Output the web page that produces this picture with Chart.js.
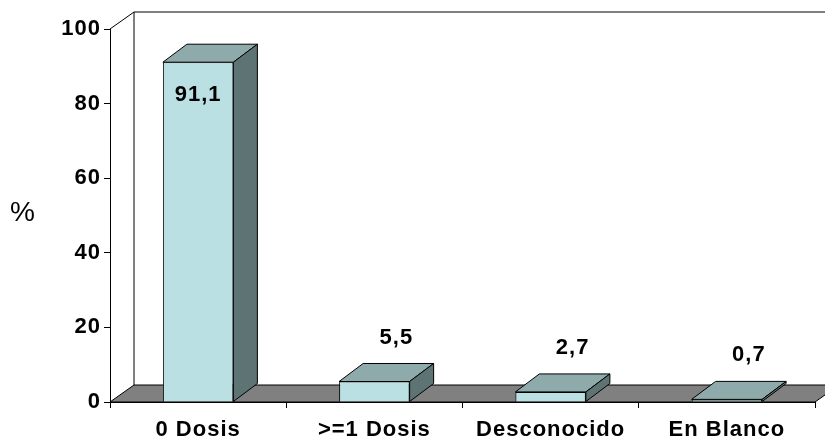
<!DOCTYPE html>
<html>
<head>
<meta charset="utf-8">
<script src="https://cdn.jsdelivr.net/npm/chart.js@4.4.0/dist/chart.umd.min.js"></script>
<style>
  html, body { margin: 0; padding: 0; background: #ffffff; }
  #wrap { width: 825px; height: 440px; }
</style>
</head>
<body>
<div id="wrap"><canvas id="chart"></canvas></div>
<script>
// data
const categories = ['0 Dosis', '>=1 Dosis', 'Desconocido', 'En Blanco'];
const percentValues = [91.1, 5.5, 2.7, 0.7];
const valueLabels = ['91,1', '5,5', '2,7', '0,7'];
const yTicks = [0, 20, 40, 60, 80, 100];

const FONT = "'Liberation Sans', Arial, sans-serif";
const DEPTH_X = 24;
const DEPTH_Y = -18;

const colors = {
  front: '#bbe0e3',
  top: '#8eaaab',
  side: '#5e7474',
  floor: '#808080'
};

// back wall, left wall edge and floor of the 3D box, then bar tops/sides
const boxPlugin = {
  id: 'box3d',
  beforeInit(chart) {
    // the original lettering is a touch wider than Liberation Sans
    chart.ctx.letterSpacing = '1px';
  },
  beforeDraw(chart) {
    chart.ctx.letterSpacing = '1px';
  },
  beforeDatasetsDraw(chart) {
    const { ctx, chartArea: a } = chart;
    ctx.save();
    ctx.strokeStyle = '#000';
    ctx.lineWidth = 1;
    // back wall outline
    ctx.beginPath();
    ctx.moveTo(a.left + DEPTH_X, a.bottom + DEPTH_Y + 1);
    ctx.lineTo(a.left + DEPTH_X, a.top + DEPTH_Y + 1);
    ctx.lineTo(a.right + DEPTH_X + 20, a.top + DEPTH_Y + 1);
    ctx.moveTo(a.left, a.top);
    ctx.lineTo(a.left + DEPTH_X, a.top + DEPTH_Y + 1);
    ctx.stroke();
    // floor
    ctx.beginPath();
    ctx.moveTo(a.left, a.bottom);
    ctx.lineTo(a.right, a.bottom);
    ctx.lineTo(a.right + DEPTH_X, a.bottom + DEPTH_Y + 1);
    ctx.lineTo(a.left + DEPTH_X, a.bottom + DEPTH_Y + 1);
    ctx.closePath();
    ctx.fillStyle = colors.floor;
    ctx.fill();
    ctx.stroke();
    ctx.restore();
  },
  afterDatasetsDraw(chart) {
    const { ctx } = chart;
    const meta = chart.getDatasetMeta(0);
    ctx.save();
    ctx.strokeStyle = '#000';
    ctx.lineWidth = 1;
    meta.data.forEach((bar, i) => {
      const half = bar.width / 2;
      const l = bar.x - half, r = bar.x + half;
      const t = bar.y, b = bar.base;
      // top face
      ctx.beginPath();
      ctx.moveTo(l, t);
      ctx.lineTo(l + DEPTH_X, t + DEPTH_Y);
      ctx.lineTo(r + DEPTH_X, t + DEPTH_Y);
      ctx.lineTo(r, t);
      ctx.closePath();
      ctx.fillStyle = colors.top;
      ctx.fill();
      ctx.stroke();
      // side face
      ctx.beginPath();
      ctx.moveTo(r, t);
      ctx.lineTo(r + DEPTH_X, t + DEPTH_Y);
      ctx.lineTo(r + DEPTH_X, b + DEPTH_Y);
      ctx.lineTo(r, b);
      ctx.closePath();
      ctx.fillStyle = colors.side;
      ctx.fill();
      ctx.stroke();

      // value label
      ctx.fillStyle = '#000';
      ctx.font = 'bold 22px ' + FONT;
      ctx.textAlign = 'center';
      ctx.textBaseline = 'middle';
      if (percentValues[i] > 50) {
        ctx.fillText(valueLabels[i], bar.x, t + 33);
      } else {
        ctx.fillText(valueLabels[i], bar.x + DEPTH_X - 2, t + DEPTH_Y - 26);
      }
    });
    // "%" axis caption, drawn upright
    ctx.font = '28px ' + FONT;
    ctx.textAlign = 'center';
    ctx.textBaseline = 'middle';
    ctx.fillText('%', 23, 213);
    ctx.restore();
  }
};

new Chart(document.getElementById('chart'), {
  type: 'bar',
  data: {
    labels: categories,
    datasets: [{
      data: percentValues,
      backgroundColor: colors.front,
      borderColor: '#000',
      borderWidth: 1,
      categoryPercentage: 1,
      barPercentage: 0.4
    }]
  },
  plugins: [boxPlugin],
  options: {
    responsive: true,
    maintainAspectRatio: false,
    animation: false,
    layout: { padding: { top: 29, right: 10, left: 0, bottom: 0 } },
    plugins: {
      legend: { display: false },
      tooltip: { enabled: false }
    },
    scales: {
      x: {
        grid: {
          offset: true,
          drawOnChartArea: false,
          drawTicks: true,
          tickLength: 6,
          color: '#000'
        },
        border: { display: true, color: '#000' },
        ticks: {
          color: '#000',
          padding: 9,
          maxRotation: 0,
          font: { family: FONT, size: 22, weight: 'bold' }
        },
        afterFit(scale) { scale.height = 38; }
      },
      y: {
        min: 0,
        max: 100,
        afterBuildTicks(scale) { scale.ticks = yTicks.map(v => ({ value: v })); },
        grid: {
          drawOnChartArea: false,
          drawTicks: true,
          tickLength: 6,
          color: '#000'
        },
        border: { display: true, color: '#000' },
        ticks: {
          color: '#000',
          padding: 3,
          font: { family: FONT, size: 22, weight: 'bold' }
        },
        afterFit(scale) { scale.width = 110; }
      }
    }
  }
});
</script>
</body>
</html>
